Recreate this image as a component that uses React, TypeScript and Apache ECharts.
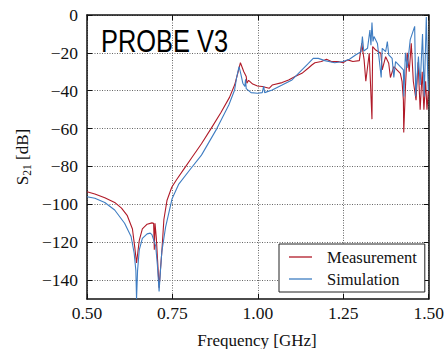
import React, { useEffect, useRef } from "react";
import * as echarts from "echarts";

const xTicks = [0.5, 0.75, 1.0, 1.25, 1.5];
const yTicks = [-140, -120, -100, -80, -60, -40, -20, 0];

const measFreq = [
  0.500, 0.523, 0.552, 0.581, 0.601, 0.618, 0.633, 0.640, 0.645, 0.653,
  0.662, 0.676, 0.690, 0.695, 0.697, 0.699, 0.703, 0.711, 0.716, 0.719,
  0.725, 0.734, 0.748, 0.762, 0.785, 0.806, 0.835, 0.863, 0.892, 0.917,
  0.932, 0.941, 0.949, 0.959, 0.966, 0.968, 0.973, 0.985, 0.999, 1.013,
  1.033, 1.042, 1.071, 1.090, 1.109, 1.129, 1.148, 1.158, 1.167, 1.186,
  1.201, 1.215, 1.235, 1.249, 1.263, 1.278, 1.297, 1.304, 1.311, 1.316,
  1.326, 1.334, 1.336, 1.345, 1.360, 1.364, 1.374, 1.383, 1.388, 1.398,
  1.407, 1.417, 1.422, 1.426, 1.427, 1.432, 1.437, 1.443, 1.449, 1.455,
  1.463, 1.469, 1.475, 1.481, 1.486, 1.491, 1.495, 1.499,
];
const measDb = [
  -93.4, -94.5, -96.5, -99, -102, -106, -113, -123, -131, -119,
  -113, -110.5, -109.8, -110, -124, -110, -118, -144, -132, -125,
  -108, -98, -91, -87, -81, -75.5, -68, -60, -51.5, -43.5,
  -37, -31, -25.2, -30, -32.5, -36, -34.5, -36.5, -37.5, -37.8,
  -38.7, -37, -35.7, -34.3, -32.5, -30.8, -28, -26.4, -25.2, -24.6,
  -23.4, -24.6, -24.6, -25.2, -23.7, -24.6, -24.1, -15, -23.7, -35,
  -20.2, -55, -16.7, -18.5, -20.2, -29, -22, -25.5, -33, -27.3,
  -29, -30.8, -35, -45, -62, -38, -20, -30, -15, -35,
  -45, -25, -50, -30, -50, -35, -50, -40,
];

const simFreq = [
  0.500, 0.523, 0.552, 0.581, 0.610, 0.629, 0.638, 0.643, 0.645, 0.648,
  0.653, 0.662, 0.676, 0.685, 0.690, 0.701, 0.706, 0.711, 0.715, 0.719,
  0.730, 0.749, 0.768, 0.800, 0.835, 0.880, 0.915, 0.932, 0.938, 0.945,
  0.950, 0.956, 0.962, 0.964, 0.966, 0.980, 0.999, 1.013, 1.017, 1.020,
  1.042, 1.071, 1.100, 1.129, 1.148, 1.162, 1.177, 1.196, 1.225, 1.249,
  1.268, 1.287, 1.302, 1.306, 1.310, 1.321, 1.328, 1.331, 1.334, 1.337,
  1.340, 1.350, 1.361, 1.364, 1.374, 1.379, 1.383, 1.393, 1.398, 1.403,
  1.417, 1.426, 1.427, 1.432, 1.437, 1.446, 1.459, 1.462, 1.470, 1.475,
  1.482, 1.487, 1.493, 1.497, 1.499,
];
const simDb = [
  -96, -96.8, -99, -103, -110, -117, -125.7, -135, -150, -135,
  -124, -118, -115.6, -115.2, -116, -122, -132, -146, -135, -125,
  -112, -97, -89.5, -82, -74, -60, -47.5, -39.6, -33, -27.3,
  -31, -36, -37.8, -34, -38.9, -41, -41.3, -41, -37.6, -41,
  -39.6, -37, -34.3, -29, -25.5, -22.9, -22.9, -24.1, -25.2, -24.6,
  -23.4, -21, -19.4, -11.4, -19, -17.6, -7.9, -16, -4, -14,
  -11.4, -15, -33, -17.6, -19.4, -14, -21, -22.9, -33, -24.6,
  -27.3, -29, -43, -20, -28, -13, -6, -43, -22, -37,
  -10, -43, -1, -30, -40,
];

const SERIF = "'Liberation Serif', 'Times New Roman', serif";
const SANS = "'Liberation Sans', Arial, sans-serif";
const RED = "#b01a28";
const BLUE = "#3f7dc2";

const fmtNum = (v: number, d: number) => {
  const s = Math.abs(v).toFixed(d);
  return v < 0 ? "\u2212" + s : s;
};

export default function App() {
  const ref = useRef<HTMLDivElement>(null);

  useEffect(() => {
    if (!ref.current) return;
    const chart = echarts.init(ref.current, undefined, { renderer: "svg" });

    const measData = measFreq.map((f, i) => [f, measDb[i]]);
    const simData = simFreq.map((f, i) => [f, simDb[i]]);

    const axisLine = { show: true, onZero: false, lineStyle: { color: "#111", width: 1.5 } };
    const tick = { show: true, inside: true, length: 5, lineStyle: { color: "#111", width: 1 } };
    const split = { show: true, lineStyle: { color: "#666", width: 1, type: [1, 1.5] as any } };

    chart.setOption({
      animation: false,
      backgroundColor: "#fff",
      grid: { left: 87, right: 13, top: 15, bottom: 50, containLabel: false },
      xAxis: [
        {
          type: "value",
          position: "bottom",
          min: xTicks[0],
          max: xTicks[xTicks.length - 1],
          interval: 0.25,
          axisLine,
          axisTick: tick,
          splitLine: split,
          axisLabel: {
            margin: 5,
            fontFamily: SERIF,
            fontSize: 17.5,
            color: "#111",
            formatter: (v: number) => v.toFixed(2),
          },
        },
        {
          type: "value",
          position: "top",
          min: xTicks[0],
          max: xTicks[xTicks.length - 1],
          interval: 0.25,
          axisLine,
          axisTick: tick,
          splitLine: { show: false },
          axisLabel: { show: false },
        },
      ],
      yAxis: [
        {
          type: "value",
          position: "left",
          min: -150,
          max: 0,
          axisLine,
          axisTick: { ...tick, customValues: yTicks },
          splitLine: split,
          axisLabel: {
            customValues: yTicks,
            margin: 9,
            fontFamily: SERIF,
            fontSize: 17.5,
            color: "#111",
            formatter: (v: number) => fmtNum(v, 0),
          },
        },
        {
          type: "value",
          position: "right",
          min: -150,
          max: 0,
          axisLine,
          axisTick: { ...tick, customValues: yTicks },
          splitLine: { show: false },
          axisLabel: { show: false },
        },
      ],
      legend: {
        orient: "vertical",
        left: 279,
        top: 244,
        padding: [4, 8, 4, 10],
        icon: "rect",
        itemWidth: 23,
        itemHeight: 1.3,
        itemGap: 4,
        borderColor: "#222",
        borderWidth: 1,
        borderRadius: 0,
        backgroundColor: "#fff",
        textStyle: {
          fontFamily: SERIF,
          fontSize: 16.5,
          color: "#111",
          lineHeight: 18,
          padding: [0, 0, 0, 10],
        },
        data: ["Measurement", "Simulation"],
      },
      series: [
        {
          name: "Measurement",
          type: "line",
          xAxisIndex: 0,
          yAxisIndex: 0,
          data: measData,
          symbol: "none",
          showSymbol: false,
          clip: true,
          lineStyle: { color: RED, width: 1.1 },
          itemStyle: { color: RED },
        },
        {
          name: "Simulation",
          type: "line",
          xAxisIndex: 0,
          yAxisIndex: 0,
          data: simData,
          symbol: "none",
          showSymbol: false,
          clip: true,
          lineStyle: { color: BLUE, width: 1.1 },
          itemStyle: { color: BLUE },
        },
      ],
      graphic: [
        {
          type: "text",
          x: 101,
          y: 41,
          scaleX: 0.82,
          style: {
            text: "PROBE V3",
            fontFamily: SANS,
            fontSize: 31,
            fill: "#000",
            align: "left",
            verticalAlign: "middle",
          },
        },
        {
          type: "text",
          x: 257,
          y: 340,
          style: {
            text: "Frequency [GHz]",
            fontFamily: SERIF,
            fontSize: 17,
            fill: "#111",
            align: "center",
            verticalAlign: "middle",
          },
        },
        {
          type: "text",
          x: 22,
          y: 157,
          rotation: Math.PI / 2,
          style: {
            text: "{s|S}{sub|21}{s| [dB]}",
            align: "center",
            verticalAlign: "middle",
            rich: {
              s: { fontFamily: SERIF, fontSize: 17, fill: "#111", lineHeight: 22, verticalAlign: "middle" },
              sub: { fontFamily: SERIF, fontSize: 11.5, fill: "#111", lineHeight: 12, verticalAlign: "bottom" },
            },
          },
        },
      ],
    });

    return () => chart.dispose();
  }, []);

  return (
    <div
      ref={ref}
      style={{ position: "fixed", left: 0, top: 0, width: 447, height: 349, background: "#fff" }}
    />
  );
}
